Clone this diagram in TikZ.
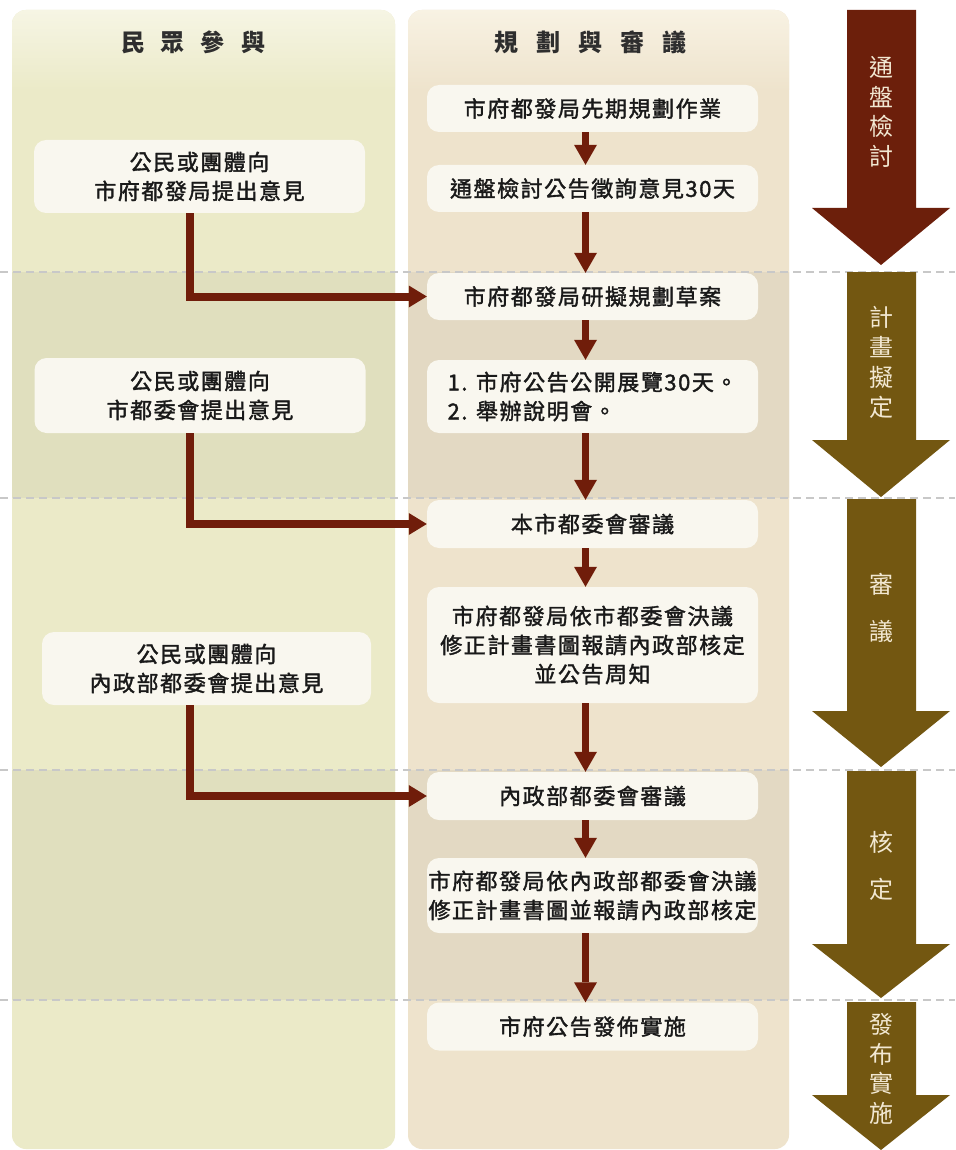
\documentclass[tikz,border=0pt]{standalone}
\usepackage{fontspec}
\setmainfont{Noto Sans CJK TC}
\newfontfamily\boxfont[LetterSpace=7,FakeBold=1.6]{Noto Sans CJK TC}
\usetikzlibrary{arrows.meta}
\definecolor{colL}{HTML}{EBEAC8}
\definecolor{colLd}{HTML}{E0DFBE}
\definecolor{colLtop}{HTML}{F6F5E4}
\definecolor{colR}{HTML}{EEE3CC}
\definecolor{colRd}{HTML}{E3D9C3}
\definecolor{colRtop}{HTML}{F8F2E3}
\definecolor{boxfill}{HTML}{F9F7EF}
\definecolor{flowred}{HTML}{701D0A}
\definecolor{bigred}{HTML}{6C1F0B}
\definecolor{bigolive}{HTML}{735711}
\definecolor{labelcream}{HTML}{F2E8D2}
\definecolor{dashgray}{HTML}{C8C8C8}
\definecolor{headtext}{HTML}{2E2E2E}
\begin{document}
\begin{tikzpicture}[x=1pt,y=-1pt,
  stepbox/.style={fill=boxfill, rounded corners=12pt, minimum width=331pt, inner sep=0pt, align=center, font=\boxfont\fontsize{22}{29}\selectfont, text=black!90},
  flow/.style={draw=flowred, line width=7pt, -{Triangle[length=20pt,width=23pt,line width=0pt]}},
  feed/.style={draw=flowred, line width=8pt, -{Triangle[length=18pt,width=22pt,line width=0pt]}},
  phase/.style={text=labelcream, align=center},
  sep/.style={draw=dashgray, line width=1.3pt, dash pattern=on 8pt off 5pt},
  head/.style={text=headtext, font=\bfseries\fontsize{24}{28}\selectfont}
]
\useasboundingbox (0,0) rectangle (955,1150);
\fill[white] (0,0) rectangle (955,1150);

% left column
\begin{scope}
\clip[rounded corners=14pt] (12,10) rectangle (395,1149);
\fill[colL] (0,0) rectangle (400,1150);
\fill[colLd] (0,272) rectangle (400,498);
\fill[colLd] (0,770) rectangle (400,1000);
\shade[top color=colLtop, bottom color=colL] (0,10) rectangle (400,90);
\end{scope}
% right column
\begin{scope}
\clip[rounded corners=14pt] (408,10) rectangle (789,1149);
\fill[colR] (400,0) rectangle (800,1150);
\fill[colRd] (400,272) rectangle (800,498);
\fill[colRd] (400,770) rectangle (800,1000);
\shade[top color=colRtop, bottom color=colR] (400,10) rectangle (800,90);
\end{scope}

% separators
\draw[sep] (0,272) -- (955,272);
\draw[sep] (0,498) -- (955,498);
\draw[sep] (0,770) -- (955,770);
\draw[sep] (0,1000) -- (955,1000);

% headers
\node[head] (H1) at (193,42) {民\hspace{16pt}眾\hspace{16pt}參\hspace{16pt}與};
\node[head] (H2) at (590,42) {規\hspace{18pt}劃\hspace{18pt}與\hspace{18pt}審\hspace{18pt}議};

% left boxes
\node[stepbox, minimum height=73pt] (L1) at (199.5,176.5) {公民或團體向\\市府都發局提出意見};
\node[stepbox, minimum height=75pt] (L2) at (200,395.5) {公民或團體向\\市都委會提出意見};
\node[stepbox, minimum width=329pt, minimum height=73pt] (L3) at (206.5,668.5) {公民或團體向\\內政部都委會提出意見};

% right boxes
\node[stepbox, minimum height=47pt] (R1) at (592.5,108.5) {市府都發局先期規劃作業};
\node[stepbox, minimum height=47pt] (R2) at (592.5,188.5) {通盤檢討公告徵詢意見30天};
\node[stepbox, minimum height=47pt] (R3) at (592.5,296.5) {市府都發局研擬規劃草案};
\node[stepbox, minimum height=73pt, align=left] (R4) at (592.5,396.5) {1. 市府公告公開展覽30天。\\2. 舉辦說明會。};
\node[stepbox, minimum height=48pt] (R5) at (592.5,524) {本市都委會審議};
\node[stepbox, minimum height=116pt] (R6) at (592.5,645) {市府都發局依市都委會決議\\修正計畫書圖報請內政部核定\\並公告周知};
\node[stepbox, minimum height=48pt] (R7) at (592.5,796) {內政部都委會審議};
\node[stepbox, minimum height=75pt] (R8) at (592.5,895.5) {市府都發局依內政部都委會決議\\修正計畫書圖並報請內政部核定};
\node[stepbox, minimum height=48pt] (R9) at (592.5,1026.5) {市府公告發佈實施};

% flow arrows
\draw[flow] ([xshift=-7pt]R1.south) -- ([xshift=-7pt]R2.north);
\draw[flow] ([xshift=-7pt]R2.south) -- ([xshift=-7pt]R3.north);
\draw[flow] ([xshift=-7pt]R3.south) -- ([xshift=-7pt]R4.north);
\draw[flow] ([xshift=-7pt]R4.south) -- ([xshift=-7pt]R5.north);
\draw[flow] ([xshift=-7pt]R5.south) -- ([xshift=-7pt]R6.north);
\draw[flow] ([xshift=-7pt]R6.south) -- ([xshift=-7pt]R7.north);
\draw[flow] ([xshift=-7pt]R7.south) -- ([xshift=-7pt]R8.north);
\draw[flow] ([xshift=-7pt]R8.south) -- ([xshift=-7pt]R9.north);

% feedback connectors
\draw[feed] ([xshift=-9.5pt]L1.south) |- (R3.west);
\draw[feed] ([xshift=-10pt]L2.south) |- (R5.west);
\draw[feed] ([xshift=-16.5pt]L3.south) |- (R7.west);

% phase arrows
\fill[bigred] (847,10) -- (916,10) -- (916,208) -- (950,208) -- (881,265) -- (812,208) -- (847,208) -- cycle;
\fill[bigolive] (847,272) -- (916,272) -- (916,440) -- (950,440) -- (881,497) -- (812,440) -- (847,440) -- cycle;
\fill[bigolive] (847,499) -- (916,499) -- (916,711) -- (950,711) -- (881,767) -- (812,711) -- (847,711) -- cycle;
\fill[bigolive] (847,771) -- (916,771) -- (916,944) -- (950,944) -- (881,998) -- (812,944) -- (847,944) -- cycle;
\fill[bigolive] (847,1002) -- (916,1002) -- (916,1095) -- (950,1095) -- (881,1150) -- (812,1095) -- (847,1095) -- cycle;

\node[phase, font=\fontsize{24}{29.5}\selectfont] (P1) at (881,112) {通\\盤\\檢\\討};
\node[phase, font=\fontsize{24}{30}\selectfont] (P2) at (881,362) {計\\畫\\擬\\定};
\node[phase, font=\fontsize{24}{47}\selectfont] (P3) at (881,608) {審\\議};
\node[phase, font=\fontsize{24}{47}\selectfont] (P4) at (881,866) {核\\定};
\node[phase, font=\fontsize{24}{29.5}\selectfont] (P5) at (881,1069) {發\\布\\實\\施};
\end{tikzpicture}
\end{document}
